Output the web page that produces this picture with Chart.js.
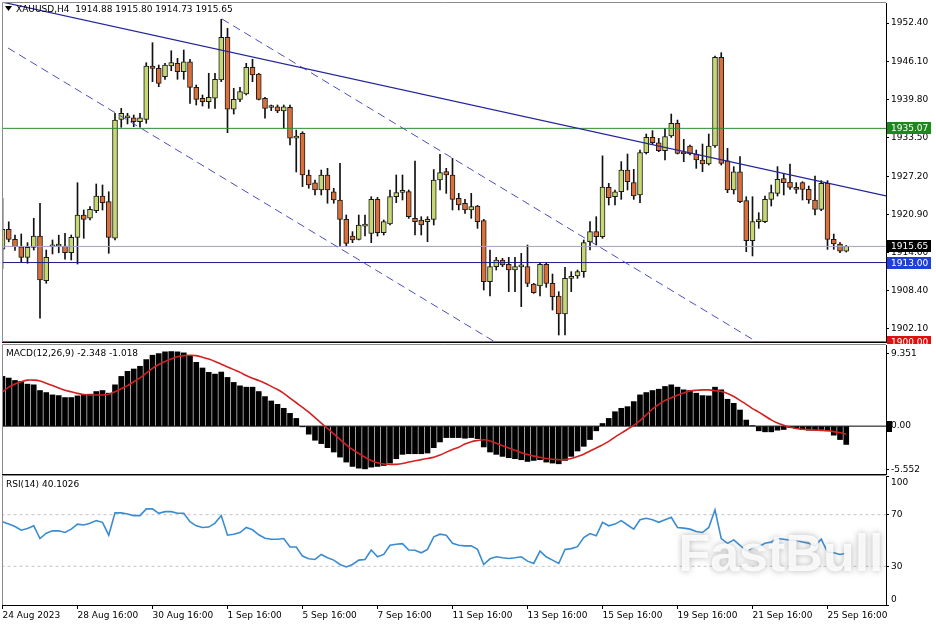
<!DOCTYPE html>
<html>
<head>
<meta charset="utf-8">
<title>XAUUSD H4</title>
<script src="https://cdn.jsdelivr.net/npm/chart.js@4.4.1/dist/chart.umd.min.js"></script>
<style>
html,body{margin:0;padding:0;background:#ffffff;}
#wrap{position:relative;width:936px;height:624px;overflow:hidden;background:#fff;}
canvas{position:absolute;left:0;}
#cPrice{top:0;}
#cMacd{top:344px;}
#cRsi{top:475px;}
</style>
</head>
<body>
<div id="wrap">
<canvas id="cPrice" width="936" height="344"></canvas>
<canvas id="cMacd" width="936" height="131"></canvas>
<canvas id="cRsi" width="936" height="149"></canvas>
</div>
<script>
// ---------------- data ----------------
const symbolTitle = 'XAUUSD,H4  1914.88 1915.80 1914.73 1915.65';
const macdTitle = 'MACD(12,26,9) -2.348 -1.018';
const rsiTitle = 'RSI(14) 40.1026';
const watermark = 'FastBull';

const xTickBars = [0, 12, 24, 36, 48, 60, 72, 84, 96, 108, 120, 132];
const xTickLabels = ['24 Aug 2023', '28 Aug 16:00', '30 Aug 16:00', '1 Sep 16:00', '5 Sep 16:00',
  '7 Sep 16:00', '11 Sep 16:00', '13 Sep 16:00', '15 Sep 16:00', '19 Sep 16:00', '21 Sep 16:00', '25 Sep 16:00'];

const priceTicks = [1952.40, 1946.10, 1939.80, 1933.50, 1927.20, 1920.90, 1914.60, 1908.40, 1902.10];

const open = [
  1915.18,1918.47,1916.8,1915.6,1913.86,1915.5,1917.37,1910.02,1915.6,1915.7,
  1915.72,1914.62,1917.15,1920.82,1920.28,1921.53,1923.95,1923.01,1916.99,1936.56,
  1936.8,1936.82,1936.17,1936.56,1945.33,1944.95,1943.57,1945.33,1945.77,1944.39,
  1946.03,1941.82,1940.0,1939.46,1940.02,1943.02,1950.05,1938.21,1939.85,1940.72,
  1945.11,1944.01,1940.0,1938.5,1938.63,1937.93,1938.53,1933.44,1934.26,1927.4,
  1926.13,1924.93,1927.4,1924.65,1923.29,1920.11,1917.36,1916.82,1919.0,1917.8,
  1923.4,1917.91,1919.34,1923.83,1924.55,1924.66,1920.27,1920.0,1919.72,1920.11,
  1926.58,1927.95,1927.4,1923.56,1922.74,1921.64,1922.3,1919.89,1909.85,1912.32,
  1913.42,1912.7,1911.77,1912.3,1912.32,1909.47,1909.14,1912.7,1909.58,1907.5,
  1904.54,1910.4,1910.79,1911.5,1916.43,1918.08,1917.26,1925.37,1923.83,1924.65,
  1928.22,1926.14,1924.11,1931.07,1933.59,1932.71,1931.4,1933.81,1935.89,1931.23,
  1932.17,1930.85,1929.86,1929.21,1932.17,1946.75,1929.75,1924.93,1927.94,1923.18,
  1916.6,1919.72,1919.72,1923.4,1924.38,1926.8,1926.24,1925.37,1926.14,1925.04,
  1923.29,1921.75,1926.03,1916.82,1916.05,1914.88
];
const high = [
  1923.57,1919.7,1917.5,1917.7,1916.27,1920.28,1922.75,1915.06,1916.71,1917.5,
  1917.81,1917.53,1926.13,1921.64,1922.19,1925.92,1925.76,1924.65,1937.55,1938.37,
  1937.55,1937.27,1937.55,1945.87,1949.16,1945.49,1945.77,1947.84,1946.59,1947.96,
  1946.43,1942.2,1940.56,1944.13,1944.13,1953.01,1951.53,1941.66,1941.82,1945.77,
  1946.43,1944.13,1940.18,1938.91,1938.91,1938.91,1938.91,1934.8,1934.52,1928.22,
  1926.58,1928.22,1928.5,1925.21,1929.32,1920.82,1918.08,1920.82,1920.82,1923.83,
  1923.72,1920.0,1924.93,1927.4,1927.4,1924.93,1929.7,1920.54,1920.54,1928.3,
  1930.8,1928.5,1930.14,1924.38,1923.4,1924.38,1922.4,1920.11,1915.06,1913.86,
  1913.69,1913.86,1913.86,1914.51,1915.88,1909.58,1912.87,1912.87,1911.11,1908.21,
  1912.21,1911.5,1911.77,1916.71,1919.72,1920.54,1930.55,1926.03,1924.93,1929.59,
  1930.85,1928.33,1931.51,1934.14,1934.69,1933.43,1935.07,1937.43,1936.44,1933.26,
  1932.33,1931.51,1932.49,1934.14,1946.97,1947.52,1931.78,1928.77,1930.41,1923.83,
  1923.83,1921.2,1923.94,1925.75,1928.77,1927.67,1929.21,1926.14,1926.3,1925.59,
  1927.23,1926.47,1926.47,1917.69,1916.27,1915.80
];
const low = [
  1912.05,1916.4,1915.0,1913.1,1912.88,1915.06,1903.83,1909.59,1914.41,1914.6,
  1913.54,1913.42,1912.76,1916.99,1919.99,1921.2,1921.64,1914.52,1916.71,1935.25,
  1935.8,1935.34,1935.25,1935.9,1942.75,1941.92,1943.14,1944.55,1943.14,1943.14,
  1939.19,1938.91,1938.75,1938.37,1938.37,1942.75,1934.36,1937.43,1939.46,1940.56,
  1942.75,1939.74,1936.73,1937.98,1937.65,1935.08,1932.33,1927.9,1925.48,1925.21,
  1924.11,1924.11,1922.75,1922.75,1915.61,1915.72,1916.27,1916.71,1917.36,1916.27,
  1917.36,1917.53,1919.17,1922.85,1923.29,1920.27,1917.53,1917.53,1916.43,1919.17,
  1924.93,1924.38,1921.64,1921.64,1921.09,1920.27,1918.63,1908.48,1907.5,1911.77,
  1912.32,1908.21,1908.21,1905.74,1909.03,1907.93,1907.5,1908.92,1905.19,1901.08,
  1901.08,1908.21,1910.4,1910.57,1915.06,1915.88,1916.98,1922.46,1922.46,1923.39,
  1924.93,1923.39,1922.85,1930.85,1932.49,1931.23,1929.86,1933.59,1930.85,1929.59,
  1930.69,1928.49,1927.94,1929.04,1931.95,1929.04,1924.49,1924.27,1922.85,1914.79,
  1914.08,1918.63,1919.56,1922.3,1923.94,1924.11,1925.04,1924.38,1923.29,1922.74,
  1920.82,1921.53,1915.17,1915.17,1914.62,1914.73
];
const close = [
  1918.47,1916.8,1915.6,1913.85,1915.51,1917.37,1910.13,1913.86,1915.8,1915.8,
  1914.62,1917.15,1920.82,1920.11,1921.76,1923.95,1922.84,1917.15,1936.45,1937.55,
  1937.1,1936.17,1936.82,1945.33,1944.95,1942.48,1945.49,1945.87,1944.39,1946.03,
  1941.82,1939.85,1939.46,1940.18,1943.14,1950.05,1938.21,1939.85,1941.1,1945.11,
  1943.85,1939.85,1938.37,1938.62,1937.93,1938.63,1933.44,1933.81,1927.4,1925.76,
  1924.93,1927.4,1924.93,1923.29,1920.11,1916.16,1916.71,1919.17,1919.1,1923.4,
  1917.91,1919.72,1923.83,1924.49,1924.65,1920.54,1919.72,1919.17,1920.11,1926.58,
  1927.78,1927.4,1923.4,1922.46,1921.64,1922.19,1919.72,1909.85,1912.32,1913.42,
  1912.59,1911.77,1912.32,1912.4,1909.58,1908.04,1912.7,1909.58,1907.39,1904.54,
  1910.4,1910.5,1911.5,1916.27,1918.08,1917.26,1925.4,1923.65,1924.65,1928.22,
  1926.3,1923.94,1931.07,1933.59,1932.71,1931.4,1933.7,1935.89,1930.96,1930.85,
  1930.85,1929.86,1929.21,1932.17,1946.75,1929.31,1924.93,1927.94,1923.01,1916.6,
  1919.72,1919.89,1923.4,1924.49,1926.69,1926.14,1925.37,1925.04,1925.04,1923.29,
  1921.75,1926.03,1916.82,1916.05,1914.88,1915.65
];

const macdHist = [
  6.38,6.17,5.86,5.74,5.39,5.30,4.57,4.31,4.01,3.92,
  3.67,3.67,3.88,4.01,4.10,4.44,4.57,4.23,5.30,6.38,
  7.03,7.33,7.68,8.54,9.10,9.31,9.53,9.57,9.53,9.40,
  9.06,8.19,7.46,6.90,6.68,6.94,6.25,5.61,5.17,5.00,
  5.00,4.44,3.79,3.23,2.80,2.29,1.64,0.99,-0.09,-1.03,
  -1.81,-2.24,-2.76,-3.32,-3.97,-4.61,-5.17,-5.39,-5.48,-5.26,
  -5.17,-5.05,-4.74,-4.18,-3.62,-3.54,-3.54,-3.54,-3.45,-2.76,
  -2.03,-1.47,-1.47,-1.47,-1.55,-1.47,-1.60,-2.67,-3.32,-3.62,
  -3.88,-4.05,-4.18,-4.31,-4.53,-4.40,-4.31,-4.61,-4.74,-4.83,
  -4.40,-3.88,-3.19,-2.59,-1.72,-0.60,0.34,0.99,1.85,2.29,
  2.50,3.15,4.01,4.31,4.57,4.74,5.09,5.30,5.00,4.66,
  4.57,4.23,3.92,3.88,5.00,4.66,3.45,2.93,2.07,0.78,
  0.05,-0.60,-0.73,-0.73,-0.52,-0.43,-0.17,-0.30,-0.43,-0.52,
  -0.52,-0.43,-0.60,-1.16,-1.72,-2.348
];
const macdSignal = [
  4.4,5.0,5.4,5.7,5.9,5.9,5.8,5.5,5.2,4.9,
  4.6,4.4,4.2,4.05,4.0,4.0,4.0,4.1,4.4,4.8,
  5.2,5.7,6.2,6.8,7.4,7.9,8.3,8.6,8.9,9.05,
  9.1,9.05,8.85,8.6,8.3,7.95,7.6,7.25,6.9,6.5,
  6.15,5.85,5.5,5.1,4.7,4.2,3.6,3.0,2.4,1.8,
  1.1,0.4,-0.3,-1.0,-1.7,-2.4,-3.0,-3.5,-4.0,-4.4,
  -4.7,-4.85,-4.9,-4.9,-4.8,-4.6,-4.45,-4.3,-4.15,-4.0,
  -3.7,-3.35,-3.0,-2.7,-2.3,-2.0,-1.85,-1.75,-1.9,-2.2,
  -2.5,-2.8,-3.1,-3.4,-3.65,-3.85,-4.0,-4.15,-4.25,-4.3,
  -4.3,-4.15,-3.9,-3.6,-3.2,-2.8,-2.4,-1.95,-1.4,-0.9,
  -0.4,0.1,0.7,1.45,2.2,2.8,3.3,3.65,3.95,4.25,
  4.5,4.6,4.65,4.65,4.55,4.45,4.2,3.8,3.3,2.8,
  2.25,1.8,1.3,0.8,0.4,0.1,-0.15,-0.3,-0.4,-0.45,
  -0.5,-0.55,-0.6,-0.7,-0.85,-1.018
];
const rsi = [
  64.6,62.7,60.9,58.0,59.3,61.4,51.5,55.7,57.5,57.5,
  56.2,58.8,62.7,62.0,63.3,65.4,64.1,54.1,71.4,71.4,
  70.6,69.3,69.3,74.5,74.5,71.1,72.4,72.4,71.1,71.1,
  64.6,61.4,60.1,60.4,63.5,69.3,54.1,54.9,56.2,60.1,
  58.3,54.4,51.8,51.0,51.0,51.5,45.0,45.0,37.9,35.8,
  35.3,39.2,36.6,34.8,31.4,29.5,31.4,34.8,35.3,42.6,
  37.4,39.2,46.3,47.1,47.6,42.6,42.4,40.5,43.1,52.8,
  54.9,54.1,47.8,46.3,45.8,45.8,43.1,31.4,35.8,37.4,
  36.6,36.1,36.6,37.4,34.0,32.2,41.8,37.4,34.8,32.2,
  43.1,43.7,45.2,52.3,55.4,53.6,64.1,61.4,62.7,65.4,
  62.0,58.8,66.1,67.2,66.1,64.1,66.1,68.0,60.1,59.6,
  58.8,57.0,56.2,60.1,73.7,51.5,47.8,50.5,46.3,41.8,
  44.4,45.2,47.8,48.9,51.5,51.0,50.2,50.2,48.9,47.8,
  45.8,51.0,41.0,40.5,39.2,40.1026
];

const macdTicks = [9.351, 0, -5.552];
const macdTickLabels = ['9.351', '0.00', '-5.552'];
const rsiTicks = [100, 70, 30, 0];
const rsiLevels = [70, 30];

const levelPrices = [1935.07, 1915.65, 1913.00, 1900.00];
// trend lines: [bar index, price]
const trendSolid = [[-0.08, 1955.85], [141.36, 1923.95]];
const trendDashUpper = [[35.12, 1953.06], [125, 1897.27]];
const trendDashLower = [[0.88, 1948.29], [82, 1897.95]];

// ---------------- styles ----------------
const FONT = 'DejaVu Sans';
Chart.defaults.font.family = FONT;
Chart.defaults.font.size = 9;
Chart.defaults.color = '#000';
Chart.defaults.animation = false;

const X_MIN = -0.08, X_MAX = 141.36;
const AXIS_W = 50;
const BULL = '#c5d873', BEAR = '#d9703c';
const levelColors = ['#2e8b2e', '#a2a2c0', '#1c1c86', '#e03a3a'];
const levelBoxColors = ['#1a8a1a', '#000000', '#1f3fd6', '#e01010'];

const pts = arr => arr.map(p => ({ x: p[0], y: p[1] }));
const hline = v => [{ x: X_MIN - 2, y: v }, { x: X_MAX + 2, y: v }];

function xAxis(show) {
  const ax = {
    type: 'linear', min: X_MIN, max: X_MAX, offset: false, display: show,
    grid: { offset: false, drawOnChartArea: false, drawTicks: true, tickLength: 4, color: '#000' },
    border: { display: show, color: '#000' }
  };
  if (show) {
    ax.afterBuildTicks = s => { s.ticks = xTickBars.map(v => ({ value: v })); };
    ax.afterFit = s => { s.height = 19; s.paddingLeft = 0; s.paddingRight = 0; };
    ax.ticks = { autoSkip: false, maxRotation: 0, minRotation: 0, align: 'start', padding: 1,
      callback: (v, i) => xTickLabels[i] };
  }
  return ax;
}
function yAxis(min, max, tickVals, labelFn) {
  return {
    type: 'linear', position: 'right', min: min, max: max,
    afterBuildTicks: s => { s.ticks = tickVals.map(v => ({ value: v })); },
    afterFit: s => { s.width = AXIS_W; s.paddingTop = 0; s.paddingBottom = 0; },
    ticks: { autoSkip: false, padding: 2, crossAlign: 'near', callback: labelFn },
    grid: { drawOnChartArea: false, drawTicks: true, tickLength: 3, color: '#000' },
    border: { display: true, color: '#000' }
  };
}

const framePlugin = {
  id: 'paneFrame',
  afterDraw(chart) {
    const { ctx, chartArea: a } = chart;
    ctx.save();
    ctx.lineWidth = 1;
    ctx.strokeStyle = '#8c8c8c';
    ctx.beginPath();
    ctx.moveTo(a.left + 0.5, a.bottom);
    ctx.lineTo(a.left + 0.5, a.top - 0.5);
    ctx.lineTo(a.right, a.top - 0.5);
    ctx.stroke();
    ctx.strokeStyle = '#000';
    ctx.beginPath();
    ctx.moveTo(a.left, a.bottom + 0.5);
    ctx.lineTo(a.right, a.bottom + 0.5);
    ctx.stroke();
    ctx.restore();
  }
};

// ---------------- price pane ----------------
const pricePlugin = {
  id: 'priceDecor',
  afterDraw(chart) {
    const { ctx, chartArea: a } = chart;
    const ys = chart.scales.y;
    ctx.save();
    ctx.fillStyle = '#000';
    ctx.beginPath();
    ctx.moveTo(5, 6); ctx.lineTo(12, 6); ctx.lineTo(8.5, 11); ctx.closePath(); ctx.fill();
    ctx.font = '9px "' + FONT + '"';
    ctx.textBaseline = 'middle';
    ctx.textAlign = 'left';
    ctx.fillText(symbolTitle, 16, 10);
    levelPrices.forEach((v, i) => {
      const y = Math.round(ys.getPixelForValue(v));
      ctx.fillStyle = levelBoxColors[i];
      ctx.fillRect(a.right + 1, y - 6, 44, 12);
      ctx.fillStyle = '#fff';
      ctx.fillText(v.toFixed(2), a.right + 5, y + 0.5);
    });
    ctx.restore();
  }
};

new Chart(document.getElementById('cPrice'), {
  type: 'bar',
  data: {
    datasets: [
      { type: 'line', label: 'trend', data: pts(trendSolid), borderColor: '#24249a', borderWidth: 1.2, pointRadius: 0, order: 0 },
      { type: 'line', label: 'channel upper', data: pts(trendDashUpper), borderColor: '#4d4dbf', borderWidth: 1, borderDash: [8, 5], pointRadius: 0, order: 0 },
      { type: 'line', label: 'channel lower', data: pts(trendDashLower), borderColor: '#4d4dbf', borderWidth: 1, borderDash: [8, 5], pointRadius: 0, order: 0 },
      ...levelPrices.map((v, i) => ({ type: 'line', label: 'level ' + v, data: hline(v), borderColor: levelColors[i], borderWidth: 1, pointRadius: 0, order: 0.5 })),
      { type: 'bar', label: 'body', data: open.map((o, i) => ({ x: i, y: [o, close[i]] })),
        backgroundColor: open.map((o, i) => close[i] >= o ? BULL : BEAR),
        borderColor: '#1a1a1a', borderWidth: 1, borderSkipped: false, barThickness: 5, minBarLength: 2,
        grouped: false, order: 1 },
      { type: 'bar', label: 'wick', data: high.map((h, i) => ({ x: i, y: [low[i], h] })),
        backgroundColor: '#111', borderWidth: 0, barThickness: 1, grouped: false, order: 2 }
    ]
  },
  options: {
    responsive: false, devicePixelRatio: 1, animation: false,
    layout: { padding: { left: 2, top: 3, right: 0, bottom: 2 } },
    plugins: { legend: { display: false }, tooltip: { enabled: false } },
    scales: {
      x: xAxis(false),
      y: yAxis(1899.93, 1955.69, priceTicks, v => Number(v).toFixed(2))
    }
  },
  plugins: [framePlugin, pricePlugin]
});

// ---------------- MACD pane ----------------
const macdPlugin = {
  id: 'macdDecor',
  afterDraw(chart) {
    const { ctx, chartArea: a } = chart;
    const ys = chart.scales.y;
    ctx.save();
    ctx.font = '9px "' + FONT + '"';
    ctx.textBaseline = 'middle';
    ctx.fillStyle = '#000';
    ctx.fillText(macdTitle, 6, 9.5);
    const y0 = Math.round(ys.getPixelForValue(0));
    ctx.fillRect(a.right + 1, y0 - 5, 5, 11);
    ctx.restore();
  }
};

new Chart(document.getElementById('cMacd'), {
  type: 'bar',
  data: {
    datasets: [
      { type: 'line', label: 'signal', data: macdSignal.map((v, i) => ({ x: i, y: v })), borderColor: '#d42020', borderWidth: 1.6, pointRadius: 0, tension: 0.3, order: 0 },
      { type: 'line', label: 'zero', data: hline(0), borderColor: '#000', borderWidth: 1, pointRadius: 0, order: 2 },
      { type: 'bar', label: 'MACD', data: macdHist.map((v, i) => ({ x: i, y: v })), backgroundColor: '#000', borderWidth: 0, barThickness: 5, grouped: false, order: 1 }
    ]
  },
  options: {
    responsive: false, devicePixelRatio: 1, animation: false,
    layout: { padding: { left: 2, top: 1, right: 0, bottom: 1 } },
    plugins: { legend: { display: false }, tooltip: { enabled: false } },
    scales: {
      x: xAxis(false),
      y: yAxis(-6.14, 10.41, macdTicks, (v, i) => macdTickLabels[i])
    }
  },
  plugins: [framePlugin, macdPlugin]
});

// ---------------- RSI pane ----------------
const rsiPlugin = {
  id: 'rsiDecor',
  afterDatasetsDraw(chart) {
    const { ctx } = chart;
    ctx.save();
    ctx.font = 'bold 52px "Liberation Sans"';
    ctx.textAlign = 'center';
    ctx.textBaseline = 'alphabetic';
    ctx.shadowColor = 'rgba(110,110,110,0.6)';
    ctx.shadowBlur = 6;
    ctx.fillStyle = 'rgba(255,255,255,0.85)';
    ctx.fillText(watermark, 781, 96);
    ctx.restore();
  },
  afterDraw(chart) {
    const { ctx, chartArea: a } = chart;
    const ys = chart.scales.y;
    ctx.save();
    ctx.font = '9px "' + FONT + '"';
    ctx.textBaseline = 'middle';
    ctx.fillStyle = '#000';
    ctx.fillText(rsiTitle, 6, 10);
    ctx.fillText(String(rsiTicks[0]), a.right + 5, ys.getPixelForValue(rsiTicks[0]) + 7);
    ctx.fillText(String(rsiTicks[3]), a.right + 5, ys.getPixelForValue(rsiTicks[3]) - 5);
    ctx.restore();
  }
};

new Chart(document.getElementById('cRsi'), {
  type: 'line',
  data: {
    datasets: [
      { label: 'RSI', data: rsi.map((v, i) => ({ x: i, y: v })), borderColor: '#3a8cd2', borderWidth: 1.6, pointRadius: 0, tension: 0, order: 0 },
      ...rsiLevels.map(v => ({ label: 'level ' + v, data: hline(v), borderColor: '#c4c4c4', borderWidth: 1, borderDash: [3, 3], pointRadius: 0, order: 1 }))
    ]
  },
  options: {
    responsive: false, devicePixelRatio: 1, animation: false,
    layout: { padding: { left: 2, top: 1, right: 0, bottom: 0 } },
    plugins: { legend: { display: false }, tooltip: { enabled: false } },
    scales: {
      x: xAxis(true),
      y: yAxis(0, 100, rsiTicks, v => (v === 70 || v === 30) ? String(v) : '')
    }
  },
  plugins: [framePlugin, rsiPlugin]
});
</script>
</body>
</html>
